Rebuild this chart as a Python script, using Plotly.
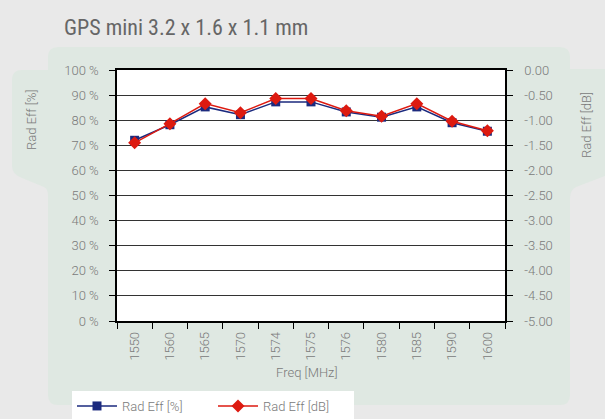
import plotly.graph_objects as go

freq_labels = ["1550", "1560", "1565", "1570", "1574", "1575", "1576", "1580", "1585", "1590", "1600"]
rad_eff_pct = [72.0, 78.2, 85.3, 82.2, 87.3, 87.3, 83.3, 81.2, 85.3, 79.0, 75.6]
rad_eff_db = [-1.45, -1.07, -0.67, -0.85, -0.57, -0.57, -0.81, -0.92, -0.67, -1.02, -1.21]
pct_ticks = [0, 10, 20, 30, 40, 50, 60, 70, 80, 90, 100]
db_ticks = [0.0, -0.5, -1.0, -1.5, -2.0, -2.5, -3.0, -3.5, -4.0, -4.5, -5.0]

W, H = 605, 419
L, R, T, B = 117, 505, 70, 321

def px(x):
    return (x - L) / (R - L)

def py(y):
    return (B - y) / (B - T)

def path(cmds):
    out = []
    for c in cmds:
        if c[0] in ("M", "L"):
            out.append(f"{c[0]} {px(c[1]):.5f},{py(c[2]):.5f}")
        elif c[0] == "Q":
            out.append(f"Q {px(c[1]):.5f},{py(c[2]):.5f} {px(c[3]):.5f},{py(c[4]):.5f}")
        elif c[0] == "Z":
            out.append("Z")
    return " ".join(out)

def rrect(x0, y0, x1, y1, r):
    return path([("M", x0 + r, y0), ("L", x1 - r, y0), ("Q", x1, y0, x1, y0 + r),
                 ("L", x1, y1 - r), ("Q", x1, y1, x1 - r, y1), ("L", x0 + r, y1),
                 ("Q", x0, y1, x0, y1 - r), ("L", x0, y0 + r), ("Q", x0, y0, x0 + r, y0), ("Z",)])

panel = "#dfe8e2"
shapes = [
    dict(type="path", xref="paper", yref="paper", path=rrect(48, 47, 570, 405, 10),
         fillcolor=panel, line=dict(width=0), layer="below"),
    dict(type="path", xref="paper", yref="paper",
         path=path([("M", 60, 70), ("L", 22, 70), ("Q", 12, 70, 12, 80), ("L", 12, 166),
                    ("Q", 12, 174, 22, 178), ("L", 44, 187), ("Q", 48, 189, 48, 195),
                    ("L", 60, 195), ("Z",)]),
         fillcolor=panel, line=dict(width=0), layer="below"),
    dict(type="path", xref="paper", yref="paper",
         path=path([("M", 560, 69), ("L", 605, 69), ("L", 605, 176), ("L", 576, 187),
                    ("Q", 570, 190, 570, 198), ("L", 560, 198), ("Z",)]),
         fillcolor=panel, line=dict(width=0), layer="below"),
    dict(type="rect", xref="paper", yref="paper", x0=0, x1=1, y0=0, y1=1,
         fillcolor="#ffffff", line=dict(width=0), layer="below"),
]

tick_font = dict(family="Roboto, Arial, sans-serif", size=13, color="#7a7a7a", weight=300)

fig = go.Figure()
fig.add_trace(go.Scatter(
    x=freq_labels, y=rad_eff_pct, name="Rad Eff [%]", mode="lines+markers",
    line=dict(color="#1b2a7e", width=1.5),
    marker=dict(symbol="square", size=9, color="#1b2a7e"),
    yaxis="y"))
fig.add_trace(go.Scatter(
    x=freq_labels, y=rad_eff_db, name="Rad Eff [dB]", mode="lines+markers",
    line=dict(color="#dd1a10", width=1.5),
    marker=dict(symbol="diamond", size=10, color="#dd1a10"),
    yaxis="y2"))

fig.update_layout(
    template="none",
    width=W, height=H,
    margin=dict(l=L, r=W - R, t=T, b=H - B, pad=0, autoexpand=False),
    paper_bgcolor="#e9e9e9",
    plot_bgcolor="#ffffff",
    shapes=shapes,
    showlegend=True,
    legend=dict(orientation="h", x=px(72), y=py(391), xanchor="left", yanchor="top",
                bgcolor="#ffffff", font=tick_font, itemwidth=40,
                entrywidth=86, entrywidthmode="pixels",
                traceorder="normal"),
    xaxis=dict(type="category", tickson="boundaries", ticks="outside", ticklen=6,
               tickcolor="#000", tickangle=-90, tickfont=tick_font, automargin=False,
               showline=True, linecolor="#000", linewidth=1.5, mirror=True,
               showgrid=False, zeroline=False, ticklabelstandoff=4,
               range=[-0.5, len(freq_labels) - 0.5]),
    yaxis=dict(range=[0, 100], tickvals=pct_ticks, automargin=False,
               ticktext=[f"{v} %" for v in pct_ticks],
               ticks="outside", ticklen=6, tickcolor="#000", tickfont=tick_font,
               showline=True, linecolor="#000", linewidth=1.5, mirror=True,
               showgrid=True, gridcolor="#333333", gridwidth=1, zeroline=False,
               ticklabelstandoff=8),
    yaxis2=dict(range=[-5, 0], tickvals=db_ticks, automargin=False,
                ticktext=[f"{v:.2f}" for v in db_ticks],
                overlaying="y", side="right", ticks="outside", ticklen=6,
                tickcolor="#000", tickfont=tick_font, showgrid=False, zeroline=False,
                showline=True, linecolor="#000", linewidth=1.5, ticklabelstandoff=9),
    annotations=[
        dict(text="GPS mini 3.2 x 1.6 x 1.1 mm", xref="paper", yref="paper",
             x=px(62), y=py(27.5), xanchor="left", yanchor="middle", showarrow=False,
             font=dict(family="Roboto Condensed, Liberation Sans Narrow, DejaVu Sans Condensed, Roboto, sans-serif",
                       size=22, color="#666666")),
        dict(text="Rad Eff [%]", xref="paper", yref="paper", x=px(31), y=py(120),
             xanchor="center", yanchor="middle",
             textangle=-90, showarrow=False, font=tick_font),
        dict(text="Rad Eff [dB]", xref="paper", yref="paper", x=px(586), y=py(125),
             xanchor="center", yanchor="middle",
             textangle=-90, showarrow=False, font=tick_font),
        dict(text="Freq [MHz]", xref="paper", yref="paper", x=px(307), y=py(372),
             xanchor="center", yanchor="middle",
             showarrow=False, font=tick_font),
    ],
)

fig.write_html("out.html", config={"displayModeBar": False},
               post_script="document.body.style.margin='0';document.body.style.overflow='hidden';")
